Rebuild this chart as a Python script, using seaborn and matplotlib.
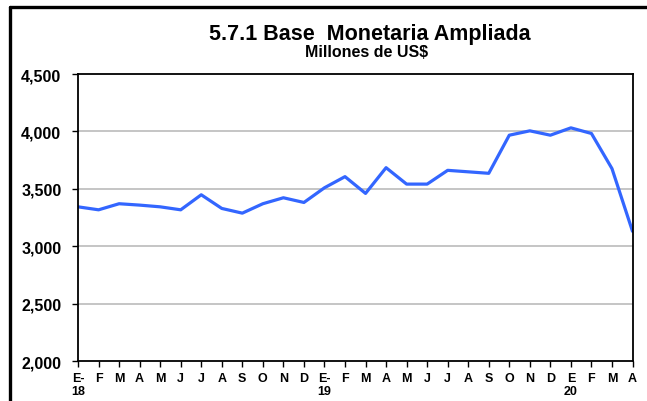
import matplotlib
matplotlib.use("Agg")
import matplotlib.pyplot as plt
from matplotlib.lines import Line2D
import seaborn as sns
import pandas as pd

# Monthly extended monetary base, Jan 2018 - Apr 2020 (millions of US$)
months = ["E-\n18", "F", "M", "A", "M", "J", "J", "A", "S", "O", "N", "D",
          "E-\n19", "F", "M", "A", "M", "J", "J", "A", "S", "O", "N", "D",
          "E\n20", "F", "M", "A"]
values = [3343, 3317, 3370, 3358, 3343, 3317, 3448, 3329, 3288, 3370, 3422, 3381,
          3509, 3606, 3460, 3684, 3541, 3541, 3661, 3648, 3635, 3967, 4005, 3967,
          4031, 3982, 3676, 3130]
y_ticks = [2000, 2500, 3000, 3500, 4000, 4500]

df = pd.DataFrame({"idx": range(len(values)), "valor": values})

sns.set_theme(style="white")
plt.rcParams["font.family"] = ["Liberation Sans", "DejaVu Sans"]
plt.rcParams["text.color"] = "black"
plt.rcParams["xtick.color"] = "black"
plt.rcParams["ytick.color"] = "black"

fig = plt.figure(figsize=(6.47, 4.02), dpi=100)
ax = fig.add_axes([0.1206, 0.0995, 0.857, 0.7139])

sns.lineplot(data=df, x="idx", y="valor", ax=ax, color="#3366ff",
             linewidth=2.3, legend=False)

ax.set_xlim(0, len(values) - 1)
ax.set_ylim(y_ticks[0], y_ticks[-1])
ax.set_yticks(y_ticks)
ax.set_yticklabels([f"{v:,}" for v in y_ticks], fontsize=11.5, fontweight="bold",
                   color="black")
ax.set_xticks(range(len(values)))
ax.set_xticklabels(months, fontsize=9, fontweight="bold", linespacing=1.15,
                   va="top", color="black")
ax.set_xlabel("")
ax.set_ylabel("")

for v in y_ticks[1:-1]:
    ax.axhline(v, color="#c0c0c0", linewidth=1.3, zorder=0)

for side in ["left", "right", "top", "bottom"]:
    ax.spines[side].set_visible(True)
    ax.spines[side].set_color("black")
    ax.spines[side].set_linewidth(1.3)

ax.tick_params(axis="both", which="major", direction="out", length=4,
               width=1.0, color="black", labelcolor="black")
ax.tick_params(axis="y", pad=8)
ax.tick_params(axis="x", pad=4)
ax.tick_params(bottom=True, left=True)

fig.text(0.571, 0.914, "5.7.1 Base  Monetaria Ampliada", ha="center", va="center",
         fontsize=15.5, fontweight="bold", color="black")
fig.text(0.567, 0.870, "Millones de US$", ha="center", va="center",
         fontsize=11.5, fontweight="bold", color="black")

# Outer frame: left and top edges
fig.add_artist(Line2D([0.0147, 0.0147], [0.0, 0.979], transform=fig.transFigure,
                      color="black", linewidth=2.4))
fig.add_artist(Line2D([0.0147, 1.0], [0.979, 0.979], transform=fig.transFigure,
                      color="black", linewidth=2.4))

fig.savefig("out.png", dpi=100, facecolor="white")
